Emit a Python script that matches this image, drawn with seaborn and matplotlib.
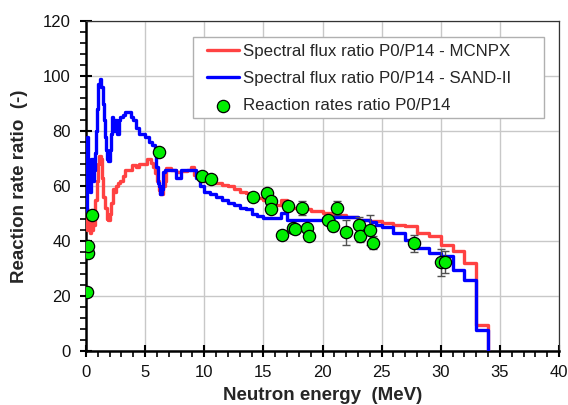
import numpy as np
import pandas as pd
import matplotlib
matplotlib.use("Agg")
import matplotlib.pyplot as plt
import seaborn as sns
from matplotlib.ticker import MultipleLocator
from matplotlib.patches import Rectangle

# ---- data ----
e_sand = [0.0, 0.05, 0.15, 0.25, 0.35, 0.45, 0.55, 0.65, 0.75, 0.85, 0.95, 1.05, 1.15, 1.3, 1.4,
          1.5, 1.6, 1.7, 1.8, 1.9, 2.0, 2.1, 2.2, 2.3, 2.45, 2.6, 2.75, 2.9, 3.1, 3.3, 3.6, 3.8,
          4.0, 4.2, 4.5, 5.0, 5.3, 5.6, 5.85, 5.95, 6.05, 6.15, 6.25, 6.4, 6.5, 6.7, 7.2, 7.6,
          8.0, 8.5, 9.0, 9.3, 9.6, 10.0, 10.5, 11.0, 11.5, 12.0, 12.5, 13.0, 13.5, 14.0, 14.5,
          15.0, 16.0, 16.5, 17.0, 18.0, 19.0, 20.0, 21.0, 22.0, 23.0, 24.0, 24.5, 25.0, 26.0,
          27.0, 28.0, 29.0, 30.0, 31.0, 32.0, 33.0, 34.0]
r_sand = [50, 78, 60, 66, 58, 70, 62, 66, 72, 80, 88, 97, 99, 96, 90,
          84, 78, 73, 70, 69, 73, 79, 85, 80, 84, 79, 84, 85, 86, 87, 87, 85,
          84, 81, 79, 78, 76, 75, 72, 67, 61, 60, 57, 59, 65, 66, 66, 63,
          66, 66, 66, 63, 60, 58, 57, 56, 55, 54, 53, 52, 51.5, 50, 49,
          48.5, 48.4, 50.3, 47.7, 47.5, 47.7, 48.4, 48.9, 48.9, 47.5, 47.0, 45.9, 45, 43,
          40.5, 37.4, 35.6, 34.4, 29.5, 25.9, 7.7, 0]

e_mcnp = [0.0, 0.05, 0.1, 0.2, 0.3, 0.4, 0.5, 0.6, 0.7, 0.8, 0.9, 1.0, 1.1, 1.25, 1.35, 1.45,
          1.6, 1.75, 1.9, 2.0, 2.1, 2.25, 2.4, 2.5, 2.7, 2.9, 3.1, 3.3, 3.6, 3.9, 4.2, 4.5,
          4.9, 5.2, 5.5, 5.7, 5.85, 6.0, 6.15, 6.3, 6.5, 6.65, 6.8, 7.2, 7.6, 8.0, 8.5, 8.9,
          9.1, 9.6, 10.0, 10.5, 11.0, 11.5, 12.0, 12.5, 13.0, 13.5, 14.0, 14.5, 15.0, 15.5,
          16.0, 16.5, 17.0, 18.0, 19.0, 20.0, 21.0, 22.0, 23.0, 24.0, 25.0, 26.0, 27.0, 28.0,
          29.0, 30.0, 31.0, 32.0, 33.0, 34.0]
r_mcnp = [47, 52, 44, 49, 43, 47, 44, 50, 46, 55, 62, 68, 71, 70, 63, 56,
          52, 48, 47.5, 50, 54, 59, 58, 60, 61, 62, 63.5, 66, 66, 67.5, 67, 68,
          68, 70, 68.5, 67, 64.8, 62, 58.7, 57, 60, 62, 66.6, 66, 65, 65.3, 66, 67,
          64, 64, 62, 61, 61, 60.5, 60, 59, 58, 57.5, 56.5, 55.5, 55, 54,
          53.2, 55, 52, 51.5, 50.8, 50.2, 49.5, 48.9, 47.7, 47.2, 46.5, 46, 45.3, 42.9,
          41.7, 38.6, 36.2, 32, 9.5, 0]

e_rr = [0.08, 0.14, 0.14, 0.5, 6.2, 9.8, 10.6, 14.1, 15.33, 15.66, 15.66, 16.6, 17.1, 17.5,
        17.7, 18.3, 18.7, 18.9, 20.5, 20.9, 21.2, 22.0, 23.05, 23.2, 24.0, 24.3, 27.7, 30.0, 30.35]
r_rr = [21.5, 35.8, 38.3, 49.3, 72.3, 63.8, 62.7, 56.1, 57.5, 54.4, 51.7, 42.2, 52.6, 44.8,
        44.2, 52.1, 44.8, 42.0, 47.7, 45.3, 51.9, 43.2, 46.0, 41.7, 44.1, 39.4, 39.1, 32.2, 32.4]
err_rr = [0, 0, 0, 0, 0, 0, 0, 0, 0, 0, 0, 0, 0, 0,
          0, 2.5, 0, 0, 0, 1.6, 2.5, 4.6, 2.6, 2.0, 5.4, 2.4, 3.2, 5.0, 4.0]

lab_mcnp = "Spectral flux ratio P0/P14 - MCNPX"
lab_sand = "Spectral flux ratio P0/P14 - SAND-II"
lab_rr = "Reaction rates ratio P0/P14"

# ---- plot ----
sns.set_theme(style="white")
plt.rcParams['font.family'] = ['Liberation Sans', 'DejaVu Sans']

fig = plt.figure(figsize=(5.68, 4.05), dpi=100)
ax = fig.add_axes([86/568, 1-351/405, (559-86)/568, (351-21)/405])

red = '#ff4242'
blue = '#0000ff'

sns.lineplot(x=e_mcnp, y=r_mcnp, ax=ax, color=red, linewidth=2.4, drawstyle='steps-post',
             label=lab_mcnp, sort=False, zorder=3)
sns.lineplot(x=e_sand, y=r_sand, ax=ax, color=blue, linewidth=2.4, drawstyle='steps-post',
             label=lab_sand, sort=False, zorder=4)

e_arr = np.array(e_rr); r_arr = np.array(r_rr); err_arr = np.array(err_rr)
m = err_arr > 0
ax.errorbar(e_arr[m], r_arr[m], yerr=err_arr[m], fmt='none', ecolor='#505050',
            elinewidth=1.0, capsize=3, capthick=1.0, zorder=5)
sns.scatterplot(x=e_rr, y=r_rr, ax=ax, s=78, color='#00ee00', edgecolor='black',
                linewidth=0.9, label=lab_rr, zorder=6)

ax.set_xlim(0, 40)
ax.set_ylim(0, 120)
ax.xaxis.set_major_locator(MultipleLocator(5))
ax.xaxis.set_minor_locator(MultipleLocator(1))
ax.yaxis.set_major_locator(MultipleLocator(20))
ax.yaxis.set_minor_locator(MultipleLocator(4))
ax.grid(True, which='major', color='#c8c8c8', linewidth=1.0)
ax.set_axisbelow(True)

ax.tick_params(axis='both', which='major', direction='inout', length=8, width=1.5,
               labelsize=12, color='black', labelcolor='#111111')
ax.tick_params(axis='x', which='major', pad=6)
ax.tick_params(axis='y', which='major', pad=7)
ax.tick_params(axis='both', which='minor', direction='out', length=4, width=1.2, color='black')
ax.tick_params(axis='x', which='both', bottom=True)
ax.tick_params(axis='y', which='both', left=True)

for s in ['left', 'bottom']:
    ax.spines[s].set_color('black')
    ax.spines[s].set_linewidth(1.8)
for s in ['top', 'right']:
    ax.spines[s].set_color('#333333')
    ax.spines[s].set_linewidth(0.9)

ax.set_xlabel("Neutron energy  (MeV)", fontsize=13.5, fontweight='bold', labelpad=5)
ax.set_ylabel("Reaction rate ratio  (-)", fontsize=13.5, fontweight='bold', labelpad=11)

# legend box (Excel-style, with extra right padding)
def ax_x(px):
    return (px - 86) / 473
def ax_y(py):
    return (351 - py) / 330

box = Rectangle((ax_x(193), ax_y(118)), ax_x(544) - ax_x(193), ax_y(37) - ax_y(118),
                transform=ax.transAxes, facecolor='white', edgecolor='#b0b0b0',
                linewidth=1.0, zorder=9)
ax.add_patch(box)

leg = ax.legend(loc='upper left', bbox_to_anchor=(ax_x(207), ax_y(44)),
                fontsize=12.2, frameon=False, handlelength=1.9, handletextpad=0.25,
                borderpad=0, labelspacing=0.72, borderaxespad=0)
leg.set_zorder(10)

fig.savefig('out.png', dpi=100)
